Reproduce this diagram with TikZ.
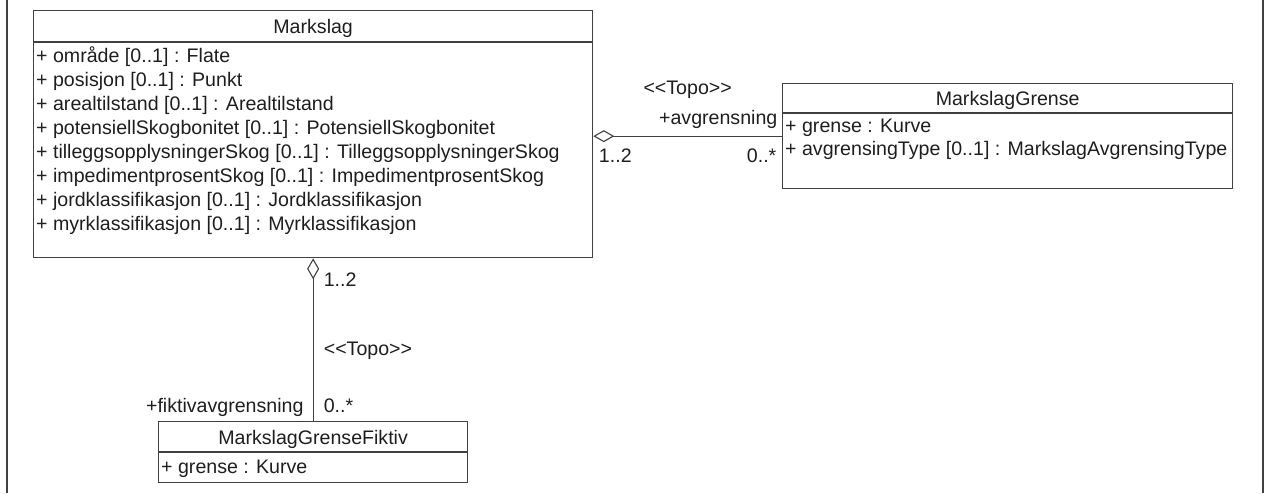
\documentclass[tikz,border=0pt]{standalone}
\usepackage{fontspec}
\setmainfont{Liberation Sans}[Ligatures=TeXOff]
\usetikzlibrary{arrows.meta}

\definecolor{umlline}{HTML}{404040}
\definecolor{umltext}{HTML}{1E1E1E}

\tikzset{
	classbox/.style={draw=umlline, line width=1.3pt, inner sep=0pt, anchor=north west},
	cname/.style={anchor=base, inner sep=0pt, text=umltext},
	attr/.style={anchor=base west, inner sep=0pt, text=umltext},
	lbl/.style={inner sep=0pt, text=umltext},
	assoc/.style={draw=umlline, line width=1.3pt, {Diamond[open,length=21pt,width=12pt,line width=1.1pt]}-},
}

\begin{document}
\begin{tikzpicture}[x=1pt, y=-1pt, font=\fontsize{19.6}{24}\selectfont]
	\useasboundingbox (0,0) rectangle (1265,493);
	
	% side rules of the frame
	\draw[umlline, line width=2pt] (7,0) -- (7,493);
	\draw[umlline, line width=2pt] (1263,0) -- (1263,493);
	
	% Markslag
	\node[classbox, minimum width=559pt, minimum height=247pt] (markslag) at (33,10) {};
	\draw[umlline, line width=1.3pt] ([yshift=-32pt]markslag.north west) -- ([yshift=-32pt]markslag.north east);
	\node[cname] (markslag-name) at ([yshift=-23pt]markslag.north) {Markslag};
	\foreach \a [count=\i] in {+ område [0..1] : Flate,
		+ posisjon [0..1] : Punkt,
		+ arealtilstand [0..1] : Arealtilstand,
		+ potensiellSkogbonitet [0..1] : PotensiellSkogbonitet,
		+ tilleggsopplysningerSkog [0..1] : TilleggsopplysningerSkog,
		+ impedimentprosentSkog [0..1] : ImpedimentprosentSkog,
		+ jordklassifikasjon [0..1] : Jordklassifikasjon,
		+ myrklassifikasjon [0..1] : Myrklassifikasjon}
		\node[attr] (markslag-a\i) at ([shift={(3,{28+24*\i})}]markslag.north west) {\a};
	
	% MarkslagGrense
	\node[classbox, minimum width=450pt, minimum height=105pt] (grense) at (782,83) {};
	\draw[umlline, line width=1.3pt] ([yshift=-30pt]grense.north west) -- ([yshift=-30pt]grense.north east);
	\node[cname] (grense-name) at ([yshift=-22pt]grense.north) {MarkslagGrense};
	\foreach \a [count=\i] in {+ grense : Kurve,
		+ avgrensingType [0..1] : MarkslagAvgrensingType}
		\node[attr] (grense-a\i) at ([shift={(3,{26+23*\i})}]grense.north west) {\a};
	
	% MarkslagGrenseFiktiv
	\node[classbox, minimum width=309pt, minimum height=61pt] (fiktiv) at (158,421) {};
	\draw[umlline, line width=1.3pt] ([yshift=-31pt]fiktiv.north west) -- ([yshift=-31pt]fiktiv.north east);
	\node[cname] (fiktiv-name) at ([yshift=-23pt]fiktiv.north) {MarkslagGrenseFiktiv};
	\node[attr] (fiktiv-a1) at ([shift={(3,52)}]fiktiv.north west) {+ grense : Kurve};
	
	% associations
	\draw[assoc] (markslag.east |- grense.west) -- (grense.west)
		node[lbl, pos=0.5, anchor=base, yshift=41.5pt] (topo-a) {<<Topo>>}
		node[lbl, pos=1, anchor=base east, xshift=-4pt, yshift=11.5pt] (role-a) {+avgrensning}
		node[lbl, pos=0, anchor=base west, xshift=5pt, yshift=-26.5pt] (mult-a) {1..2}
		node[lbl, pos=1, anchor=base east, xshift=-5pt, yshift=-26.5pt] (mult-b) {0..*};
	\draw[assoc] (markslag.south) -- (fiktiv.north)
		node[lbl, pos=0, anchor=base west, xshift=10pt, yshift=-28pt] (mult-c) {1..2}
		node[lbl, pos=0.6, anchor=base west, xshift=10pt] (topo-b) {<<Topo>>}
		node[lbl, pos=1, anchor=base east, xshift=-9pt, yshift=9pt] (role-b) {+fiktivavgrensning}
		node[lbl, pos=1, anchor=base west, xshift=10pt, yshift=9pt] (mult-d) {0..*};
	
\end{tikzpicture}
\end{document}
